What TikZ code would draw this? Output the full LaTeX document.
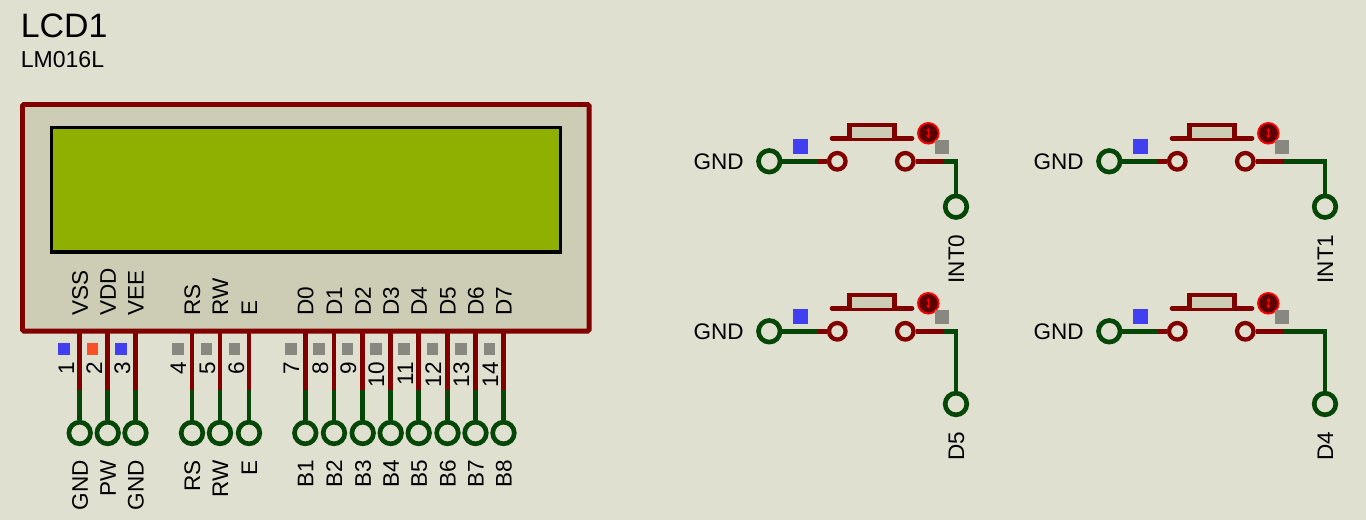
\documentclass[tikz,border=0pt]{standalone}
\usepackage{fontspec}
\setmainfont{Liberation Sans}
\usetikzlibrary{arrows.meta}
\definecolor{bgc}{RGB}{223,224,208}
\definecolor{bodyc}{RGB}{205,205,182}
\definecolor{lcdc}{RGB}{143,176,0}
\definecolor{redw}{RGB}{128,0,0}
\definecolor{greenw}{RGB}{6,70,6}
\definecolor{sqblue}{RGB}{64,64,240}
\definecolor{sqred}{RGB}{250,80,40}
\definecolor{sqgrey}{RGB}{136,136,128}
\tikzset{
  lbl/.style={font=\fontsize{16.9}{18}\selectfont,inner sep=0pt,text height=12.2pt,text depth=0pt,text=black},
  rlbl/.style={lbl,rotate=90},
  terminal/.style={circle,draw=greenw,line width=3.5pt,minimum size=16.2pt,inner sep=0pt,fill=none},
  contact/.style={circle,draw=redw,line width=3.2pt,minimum size=12.4pt,inner sep=0pt},
  pinsq/.style={inner sep=0pt,minimum size=8.6pt},
  redwire/.style={draw=redw,line width=3.5pt},
  greenwire/.style={draw=greenw,line width=3.5pt},
}
\begin{document}
\begin{tikzpicture}[x=0.75pt,y=-0.75pt]
\useasboundingbox (0,0) rectangle (1366,520);
\fill[bgc] (0,0) rectangle (1366,520);
% titles
\node[lbl,font=\fontsize{25.4}{28}\selectfont,text height=18pt,anchor=west] (title) at (20.5,26) {LCD1};
\node[lbl,font=\fontsize{17.3}{19}\selectfont,anchor=west] (sub) at (20.5,59) {LM016L};
% LCD
\node[draw=redw,fill=bodyc,line width=3.7pt,rounded corners=1pt,outer sep=0pt,minimum width=424.9pt,minimum height=169.9pt,inner sep=0pt,anchor=north west] (lcd) at (22.5,104.5) {};
\node[draw=black,fill=lcdc,line width=2.4pt,outer sep=0pt,minimum width=382pt,minimum height=93.4pt,inner sep=0pt,anchor=north west] (screen) at (51.5,127.5) {};
% pins: pin x / number x / square x / square colour / number / inner label / outer label
\foreach \px/\nx/\sqx/\sqc/\num/\inl/\outl in {
 79.7/66/64/sqblue/1/VSS/GND,107.7/94/92.7/sqred/2/VDD/PW,135.5/122/121/sqblue/3/VEE/GND,
 192/178/178/sqgrey/4/RS/RS,220/207/206.5/sqgrey/5/RW/RW,249/236/234.7/sqgrey/6/E/E,
 305.3/291/291/sqgrey/7/D0/B1,334/320/319/sqgrey/8/D1/B2,362.7/348/347.5/sqgrey/9/D2/B3,390.7/376/376/sqgrey/10/D3/B4,
 418.7/405/404/sqgrey/11/D4/B5,447.5/433/432.5/sqgrey/12/D5/B6,475.5/461/461/sqgrey/13/D6/B7,503.5/490/489.5/sqgrey/14/D7/B8}{
  \coordinate (p\num) at (\px,331);
  \coordinate (m\num) at (\px,390);
  \node[terminal] (t\num) at (\px,433) {};
  \draw[redwire] (p\num) -- (m\num);
  \draw[greenwire] (m\num) -- (t\num);
  \node[pinsq,fill=\sqc] (s\num) at (\sqx,349) {};
  \node[rlbl,anchor=east] (n\num) at (\nx,362) {\num};
  \node[rlbl,anchor=west] (i\num) at (\px,316) {\inl};
  \node[rlbl,anchor=east] (o\num) at (\px,460) {\outl};
}
% switches
\foreach \id/\dx/\dy/\wx/\ty/\brk/\name in {
 a/0/0/956/206.7/944/INT0,
 b/340/0/985/206.7/944/INT1,
 c/0/170/956/234/944/D5,
 d/340/170/985/234/944/D4}{
 \begin{scope}[shift={(\dx,\dy)}]
  \node[lbl,anchor=east] (gnd\id) at (744,161.5) {GND};
  \node[terminal] (tl\id) at (769.3,161.3) {};
  \node[contact] (cl\id) at (837.3,161.3) {};
  \node[contact] (cr\id) at (905.3,161.3) {};
  \coordinate (ml\id) at (817.7,161.3);
  \coordinate (mr\id) at (\brk,161.3);
  \coordinate (cn\id) at (\wx,161.3);
  \node[terminal] (tr\id) at (\wx,\ty) {};
  \draw[greenwire] (tl\id) -- (ml\id);
  \draw[redwire] (ml\id) -- (cl\id);
  \draw[redwire] (cr\id) -- (mr\id);
  \draw[greenwire,line join=miter] (mr\id) -- (cn\id) -- (tr\id);
  \draw[redw,line width=3.5pt,line cap=round] (832,138.3) -- (912,138.3);
  \draw[redw,line width=3.5pt,fill=bodyc] (849.5,138.3) -- (849.5,125) -- (894.5,125) -- (894.5,138.3);
  \node[pinsq,minimum size=11pt,fill=sqblue] (sb\id) at (800.3,146.7) {};
  \node[circle,fill=redw!70!black,draw=red,line width=1.4pt,minimum size=15.5pt,inner sep=0pt] (dot\id) at (928.3,133.3) {};
  \draw[red,line width=0.9pt,{Latex[length=2.4pt,width=3.6pt]}-{Latex[length=2.4pt,width=3.6pt]}] (928.3,128) -- (928.3,138.6);
  \node[pinsq,minimum size=10.5pt,fill=sqgrey] (sg\id) at (942,146.7) {};
  \node[rlbl,anchor=east] (lb\id) at ([yshift=-20.8pt]tr\id.center) {\name};
 \end{scope}
}
\end{tikzpicture}
\end{document}
